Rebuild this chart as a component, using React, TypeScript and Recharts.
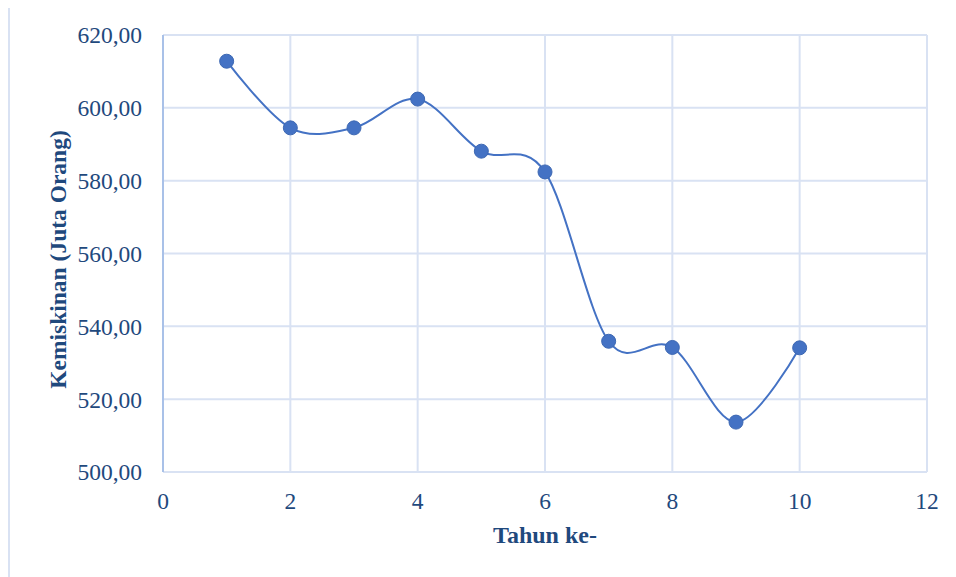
import React from "react"
import { LineChart, Line, XAxis, YAxis, CartesianGrid, Label } from "recharts"

const tahun = [1, 2, 3, 4, 5, 6, 7, 8, 9, 10]
const kemiskinan = [612.8, 594.5, 594.5, 602.4, 588.1, 582.4, 535.9, 534.2, 513.7, 534.1]
const xTicks = [0, 2, 4, 6, 8, 10, 12]
const yTicks = [500, 520, 540, 560, 580, 600, 620]

const data = tahun.map((t, i) => ({ t, v: kemiskinan[i] }))

const TEXT = "#1f497d"
const GRID = "#d9e2f3"
const SERIES = "#4472c4"
const SERIF = "'Liberation Serif', 'Times New Roman', serif"

// kurva halus ala Excel (catmull-rom / cardinal tension 0)
function smoothCurve(context: any) {
  const k = 1 / 6
  let x0 = NaN, y0 = NaN, x1 = NaN, y1 = NaN, x2 = NaN, y2 = NaN
  let pt = 0
  const seg = (x: number, y: number) => {
    context.bezierCurveTo(
      x1 + k * (x2 - x0), y1 + k * (y2 - y0),
      x2 + k * (x1 - x), y2 + k * (y1 - y),
      x2, y2
    )
  }
  return {
    areaStart() {},
    areaEnd() {},
    lineStart() {
      x0 = x1 = x2 = y0 = y1 = y2 = NaN
      pt = 0
    },
    lineEnd() {
      if (pt === 2) context.lineTo(x2, y2)
      else if (pt === 3) seg(x1, y1)
    },
    point(x: number, y: number) {
      x = +x; y = +y
      if (pt === 0) { pt = 1; context.moveTo(x, y) }
      else if (pt === 1) { pt = 2; x1 = x; y1 = y }
      else { pt = 3; seg(x, y) }
      x0 = x1; x1 = x2; x2 = x
      y0 = y1; y1 = y2; y2 = y
    },
  }
}

const fmt = (v: number) => v.toFixed(2).replace(".", ",")

export default function App() {
  return (
    <div style={{ position: "relative", width: 948, height: 569, fontFamily: SERIF }}>
      <div
        style={{
          position: "absolute", left: 0, top: -3, width: 946, height: 570,
          borderLeft: `2px solid ${GRID}`, borderTop: `2px solid ${GRID}`,
        }}
      />
      <LineChart width={948} height={569} data={data} margin={{ top: 27, right: 29, bottom: 0, left: 0 }}>
        <CartesianGrid stroke={GRID} strokeWidth={2} />
        <XAxis
          dataKey="t"
          type="number"
          domain={[0, 12]}
          ticks={xTicks}
          height={105}
          tickLine={false}
          tickSize={0}
          tickMargin={20}
          axisLine={{ stroke: GRID, strokeWidth: 2 }}
          tick={{ fill: TEXT, fontSize: 23.5, fontFamily: SERIF }}
        >
          <Label value="Tahun ke-" position="center" dy={10} fill={TEXT} fontSize={24} fontWeight="bold" fontFamily={SERIF} />
        </XAxis>
        <YAxis
          type="number"
          domain={[500, 620]}
          ticks={yTicks}
          width={155}
          tickLine={false}
          tickSize={0}
          tickMargin={21}
          tickFormatter={fmt}
          axisLine={{ stroke: "#a9c1e8", strokeWidth: 2 }}
          tick={{ fill: TEXT, fontSize: 23.5, fontFamily: SERIF }}
        >
          <Label value="Kemiskinan (Juta Orang)" angle={-90} position="center" dx={-28} dy={6} fill={TEXT} fontSize={23.5} fontWeight="bold" fontFamily={SERIF} />
        </YAxis>
        <Line
          dataKey="v"
          type={smoothCurve as any}
          stroke={SERIES}
          strokeWidth={2}
          dot={{ r: 7, fill: SERIES, stroke: "#3d68b3", strokeWidth: 1 }}
          activeDot={false}
          isAnimationActive={false}
        />
      </LineChart>
    </div>
  )
}
